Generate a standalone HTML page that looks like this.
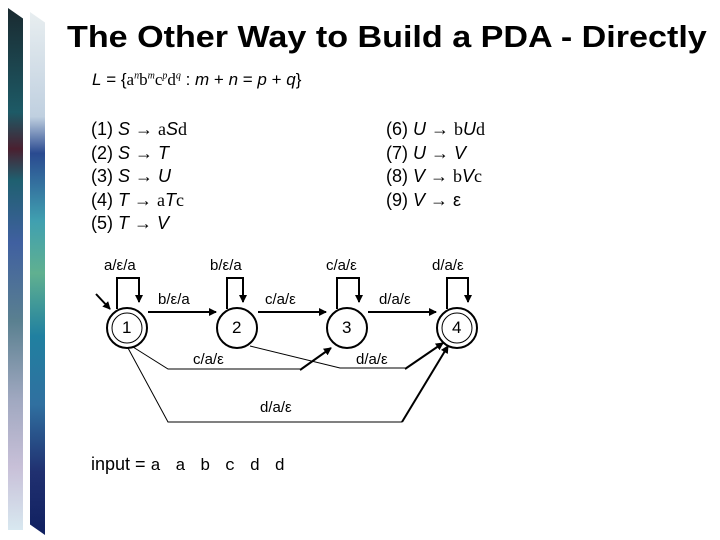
<!DOCTYPE html>
<html><head><style>
body{margin:0;width:720px;height:540px;background:#fff;position:relative;overflow:hidden;font-family:"Liberation Sans",sans-serif}
.t{position:absolute;white-space:nowrap}
.m{font-family:"Liberation Serif",serif}
i{font-style:italic}
</style></head><body>
<div style="position:absolute;left:8px;top:8px;width:15px;height:522px;background:linear-gradient(#1a2a30,#1d5a66 20%,#4a2030 27%,#1f6070 33%,#4060a0 45%,#5a8090 60%,#a0a8c0 75%,#c8c0d8 88%,#d8e8f0);clip-path:polygon(0 0,100% 2%,100% 100%,0 100%)"></div>
<div style="position:absolute;left:30px;top:12px;width:15px;height:523px;background:linear-gradient(#e8eef0,#c0d0e0 20%,#2a4a90 27%,#40a0b0 40%,#60b090 50%,#2080a0 62%,#3070a0 75%,#203070 88%,#102060);clip-path:polygon(0 0,100% 2%,100% 100%,0 98%)"></div>
<div class="t" style="left:67px;top:19px;font-size:31px;font-weight:bold;transform:scaleX(1.1);transform-origin:0 0">The Other Way to Build a PDA - Directly</div>
<div class="t" style="left:92px;top:70px;font-size:17px"><i>L</i> = {<span class="m">a<sup style="font-size:10px"><i>n</i></sup>b<sup style="font-size:10px"><i>m</i></sup>c<sup style="font-size:10px"><i>p</i></sup>d<sup style="font-size:10px"><i>q</i></sup></span> : <i>m</i> + <i>n</i> = <i>p</i> + <i>q</i>}</div>
<div class="t" style="left:91px;top:118px;font-size:18px;line-height:23.5px">(1) <i>S</i> → <span class="m">a</span><i>S</i><span class="m">d</span><br>(2) <i>S</i> → <i>T</i><br>(3) <i>S</i> → <i>U</i><br>(4) <i>T</i> → <span class="m">a</span><i>T</i><span class="m">c</span><br>(5) <i>T</i> → <i>V</i></div>
<div class="t" style="left:386px;top:118px;font-size:18px;line-height:23.5px">(6) <i>U</i> → <span class="m">b</span><i>U</i><span class="m">d</span><br>(7) <i>U</i> → <i>V</i><br>(8) <i>V</i> → <span class="m">b</span><i>V</i><span class="m">c</span><br>(9) <i>V</i> → ε</div>
<svg width="720" height="540" style="position:absolute;left:0;top:0">
<defs><marker id="a" markerWidth="8" markerHeight="8" refX="7" refY="4" orient="auto" markerUnits="userSpaceOnUse"><path d="M0,0 L8,4 L0,8z"/></marker></defs>
<g fill="none" stroke="#000" stroke-width="2">
<circle cx="127" cy="328" r="20"/><circle cx="127" cy="328" r="15" stroke-width="1"/>
<circle cx="237" cy="328" r="20"/>
<circle cx="347" cy="328" r="20"/>
<circle cx="457" cy="328" r="20"/><circle cx="457" cy="328" r="15" stroke-width="1"/>
<path d="M117,309 V278 H139 V302" marker-end="url(#a)"/>
<path d="M227,309 V278 H243 V302" marker-end="url(#a)"/>
<path d="M337,309 V278 H359 V302" marker-end="url(#a)"/>
<path d="M447,309 V278 H468 V302" marker-end="url(#a)"/>
<path d="M96,294 L110,309" marker-end="url(#a)"/>
<path d="M148,312 H216" marker-end="url(#a)"/>
<path d="M258,312 H326" marker-end="url(#a)"/>
<path d="M368,312 H436" marker-end="url(#a)"/>
</g>
<g fill="none" stroke="#000" stroke-width="1">
<path d="M133,347 L168,369 H300"/><path d="M300,370 L331,348" stroke-width="2" marker-end="url(#a)"/>
<path d="M250,346 L340,368 H405"/><path d="M405,369 L443,343" stroke-width="2" marker-end="url(#a)"/>
<path d="M128,348 L168,422 H402"/><path d="M402,422 L448,346" stroke-width="2" marker-end="url(#a)"/>
</g>
</svg>
<div class="t" style="font-size:15px;left:104px;top:257px">a/ε/a</div>
<div class="t" style="font-size:15px;left:210px;top:257px">b/ε/a</div>
<div class="t" style="font-size:15px;left:326px;top:257px">c/a/ε</div>
<div class="t" style="font-size:15px;left:432px;top:257px">d/a/ε</div>
<div class="t" style="font-size:15px;left:158px;top:291px">b/ε/a</div>
<div class="t" style="font-size:15px;left:265px;top:291px">c/a/ε</div>
<div class="t" style="font-size:15px;left:379px;top:291px">d/a/ε</div>
<div class="t" style="font-size:15px;left:193px;top:351px">c/a/ε</div>
<div class="t" style="font-size:15px;left:356px;top:351px">d/a/ε</div>
<div class="t" style="font-size:15px;left:260px;top:399px">d/a/ε</div>
<div class="t" style="font-size:17px;left:122px;top:318px">1</div>
<div class="t" style="font-size:17px;left:232px;top:318px">2</div>
<div class="t" style="font-size:17px;left:342px;top:318px">3</div>
<div class="t" style="font-size:17px;left:452px;top:318px">4</div>
<div class="t" style="font-size:18px;left:91px;top:454px">input = <span style="font-family:'Liberation Mono',monospace;font-size:17px;letter-spacing:2.2px">a a b c d d</span></div>
</body></html>
